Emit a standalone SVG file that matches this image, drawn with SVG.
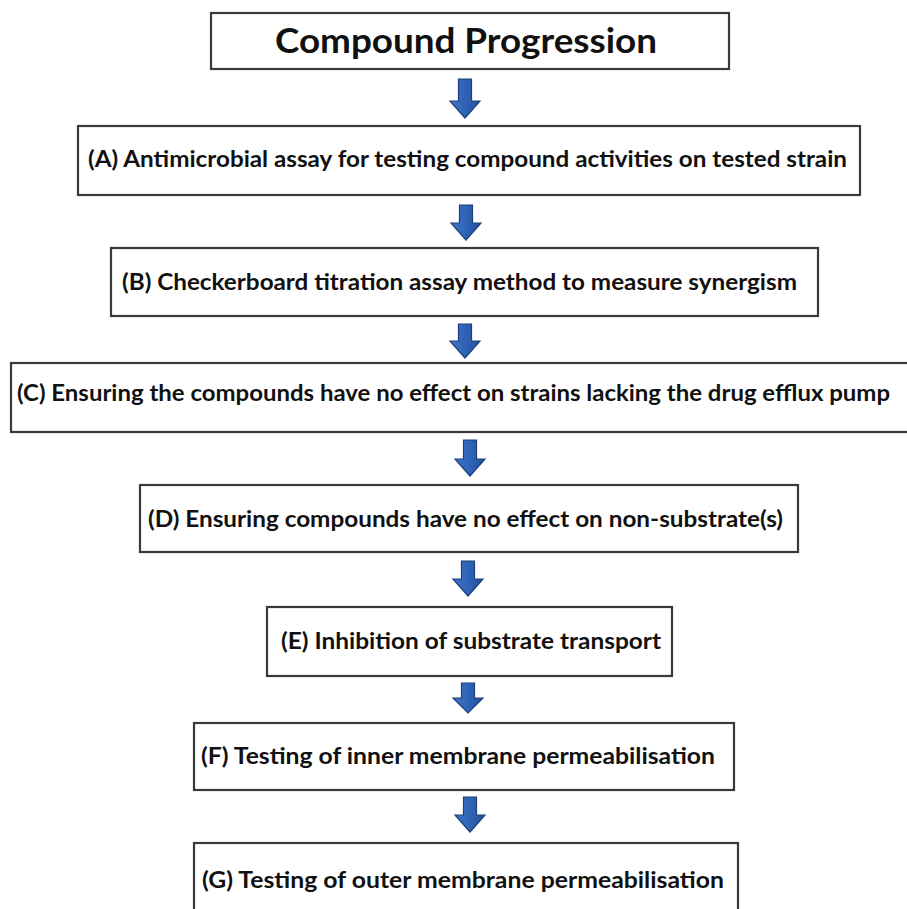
<svg xmlns="http://www.w3.org/2000/svg" width="907" height="909" viewBox="0 0 907 909">
<defs>
<style>
.box{fill:#ffffff;stroke:#3a3a3a;stroke-width:2.2}
.t{font-family:Lato,"Open Sans","Liberation Sans",sans-serif;font-weight:bold;font-size:22.5px;fill:#111111}
.title{font-family:Lato,"Open Sans","Liberation Sans",sans-serif;font-weight:bold;font-size:34px;fill:#111111}
.arr{fill:url(#ag);stroke:#1d3f7c;stroke-width:1.2;stroke-linejoin:miter}
</style>
<linearGradient id="ag" x1="0" y1="0" x2="1" y2="0">
<stop offset="0" stop-color="#3f76cc"/>
<stop offset="0.5" stop-color="#2f63b6"/>
<stop offset="1" stop-color="#24519c"/>
</linearGradient>
</defs>
<rect width="907" height="909" fill="#ffffff"/>
<g id="connectors">
<path class="arr" d="M458.5,79 H471.5 V101 H480 L465,118 L450,101 H458.5 Z"/>
<path class="arr" d="M459.5,205 H472.5 V223 H481 L466,240 L451,223 H459.5 Z"/>
<path class="arr" d="M458.5,324 H471.5 V341 H480 L465,358 L450,341 H458.5 Z"/>
<path class="arr" d="M463.5,440 H476.5 V459 H485 L470,476 L455,459 H463.5 Z"/>
<path class="arr" d="M461.5,561 H474.5 V579 H483 L468,596 L453,579 H461.5 Z"/>
<path class="arr" d="M461.5,683 H474.5 V698 H483 L468,713 L453,698 H461.5 Z"/>
<path class="arr" d="M463.5,797 H476.5 V815 H485 L470,832 L455,815 H463.5 Z"/>
</g>
<g id="title">
<rect class="box" x="211" y="13" width="518" height="56"/>
<text class="title" x="275" y="53" textLength="382" lengthAdjust="spacingAndGlyphs">Compound Progression</text>
</g>
<g id="A">
<rect class="box" x="78" y="126" width="782" height="69"/>
<text class="t" x="88" y="167" textLength="759" lengthAdjust="spacingAndGlyphs">(A) Antimicrobial assay for testing compound activities on tested strain</text>
</g>
<g id="B">
<rect class="box" x="111" y="248" width="707" height="68"/>
<text class="t" x="122" y="290" textLength="675" lengthAdjust="spacingAndGlyphs">(B) Checkerboard titration assay method to measure synergism</text>
</g>
<g id="C">
<rect class="box" x="11" y="363" width="910" height="69"/>
<text class="t" x="17" y="401" textLength="873" lengthAdjust="spacingAndGlyphs">(C) Ensuring the compounds have no effect on strains lacking the drug efflux pump</text>
</g>
<g id="D">
<rect class="box" x="140" y="485" width="658" height="67"/>
<text class="t" x="148" y="527" textLength="635" lengthAdjust="spacingAndGlyphs">(D) Ensuring compounds have no effect on non-substrate(s)</text>
</g>
<g id="E">
<rect class="box" x="267" y="607" width="405" height="69"/>
<text class="t" x="281" y="649" textLength="380" lengthAdjust="spacingAndGlyphs">(E) Inhibition of substrate transport</text>
</g>
<g id="F">
<rect class="box" x="194" y="723" width="540" height="67"/>
<text class="t" x="201" y="764" textLength="514" lengthAdjust="spacingAndGlyphs">(F) Testing of inner membrane permeabilisation</text>
</g>
<g id="G">
<rect class="box" x="194" y="843" width="544" height="80"/>
<text class="t" x="202" y="888" textLength="522" lengthAdjust="spacingAndGlyphs">(G) Testing of outer membrane permeabilisation</text>
</g>
</svg>
